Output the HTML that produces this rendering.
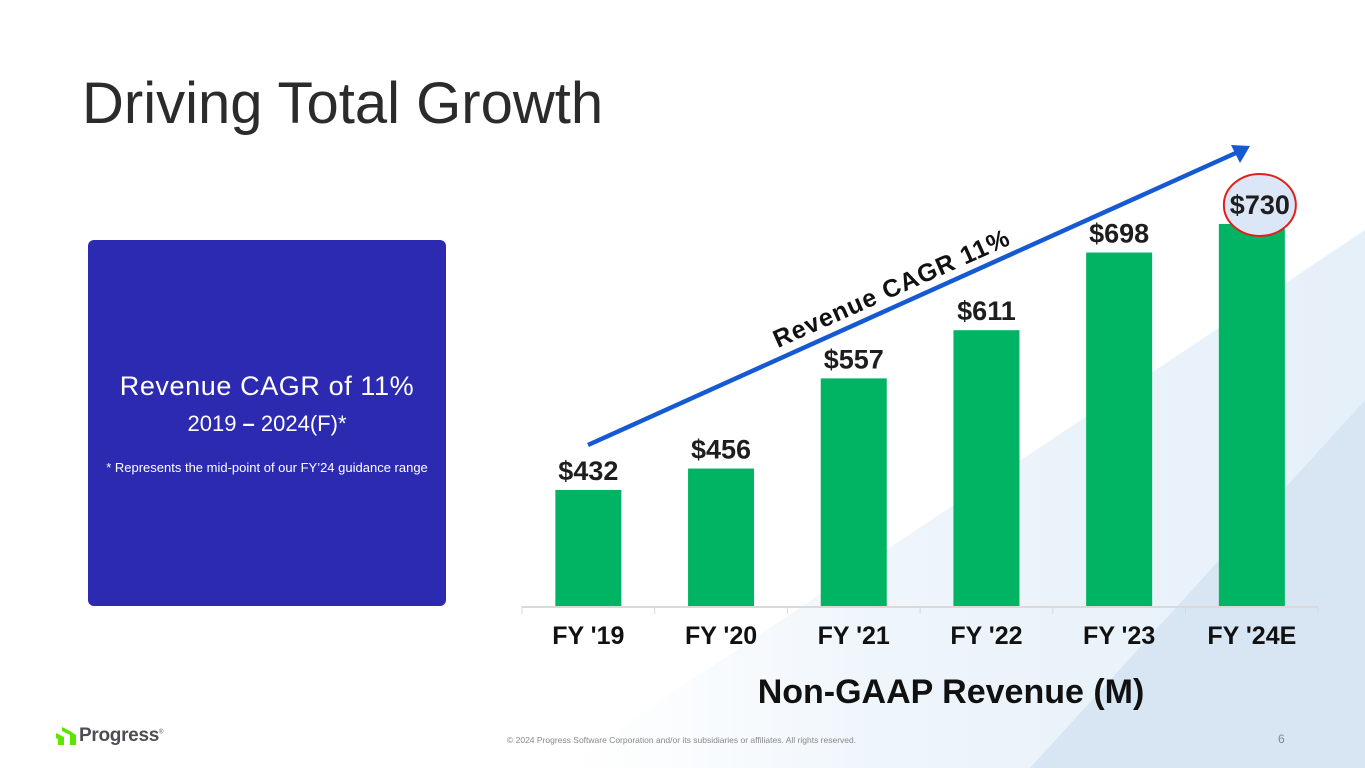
<!DOCTYPE html>
<html><head><meta charset="utf-8"><style>
html,body{margin:0;padding:0;width:1365px;height:768px;overflow:hidden;background:#fff;font-family:"Liberation Sans",sans-serif}
#root{position:relative;width:1365px;height:768px}
.abs{position:absolute}
</style></head><body><div id="root">
<svg class="abs" style="left:0;top:0" width="1365" height="768">
<defs><linearGradient id="g1" x1="0" y1="0" x2="1" y2="0"><stop offset="0" stop-color="#f4f9fd" stop-opacity="0"/><stop offset="0.4" stop-color="#eef5fb"/><stop offset="1" stop-color="#e6f0f9"/></linearGradient></defs>
<polygon points="560,768 1365,230 1365,768" fill="url(#g1)"/>
<polygon points="1030,768 1365,400 1365,768" fill="#d8e6f4"/>
</svg>
<div class="abs" style="left:82px;top:70px;font-size:58px;color:#2b2b2b">Driving Total Growth</div>
<div class="abs" style="left:88px;top:240px;width:358px;height:366px;background:#2c2ab0;border-radius:6px;color:#fff;text-align:center">
<div style="position:absolute;left:0;right:0;top:131px;font-size:27px;letter-spacing:0.6px">Revenue CAGR of 11%</div>
<div style="position:absolute;left:0;right:0;top:171px;font-size:22px">2019 <b>–</b> 2024(F)*</div>
<div style="position:absolute;left:0;right:0;top:220px;font-size:13px">* Represents the mid-point of our FY’24 guidance range</div>
</div>
<svg id="chart" class="abs" style="left:0;top:0" width="1365" height="768"></svg>
<div class="abs" style="left:0;width:1902px;top:673px;text-align:center;font-size:34px;font-weight:bold;color:#111">Non-GAAP Revenue (M)</div>
<div class="abs" style="left:507px;top:735px;font-size:8.5px;color:#888">© 2024 Progress Software Corporation and/or its subsidiaries or affiliates. All rights reserved.</div>
<div class="abs" style="left:1278px;top:732px;font-size:12px;color:#888">6</div>
<div class="abs" style="left:56px;top:725px;height:22px;display:flex;align-items:center">
<svg width="20" height="18"><polygon points="6,0 14,4 20,8 20,18 14,18 14,8 6,4" fill="#5ce500"/><polygon points="0,6 8,10 8,18 2,18 2,12 0,11" fill="#5ce500"/></svg>
<span style="font-size:19px;font-weight:bold;color:#4b4e52;margin-left:3px;letter-spacing:-0.3px">Progress<sup style="font-size:6px;font-weight:normal">®</sup></span>
</div>
</div>
<script>
const categories=["FY '19","FY '20","FY '21","FY '22","FY '23","FY '24E"];
const revenue=[432,456,557,611,698,730];
const valueLabels=["$432","$456","$557","$611","$698","$730"];
const NS="http://www.w3.org/2000/svg";
const svg=document.getElementById('chart');
const baseY=606, x0=522, step=132.7, barW=66;
const yScale=v=>baseY-(v-302)*0.8926;
const xCenter=i=>x0+step*i+step/2;
function mk(t,a){const e=document.createElementNS(NS,t);for(const k in a)e.setAttribute(k,a[k]);svg.appendChild(e);return e;}
const ax=mk('line',{x1:x0,x2:x0+step*6,y1:baseY+1,y2:baseY+1,stroke:'#d9d9d9','stroke-width':2});


for(let i=0;i<=6;i++){const t=mk('line',{x1:x0+step*i,x2:x0+step*i,y1:baseY,y2:baseY+8,stroke:'#d9d9d9','stroke-width':1});

}
revenue.forEach((v,i)=>{
const cx=xCenter(i),y=yScale(v);
const r=mk('rect',{x:cx-barW/2,y:y,width:barW,height:baseY-y,fill:'#00b463'});


if(i===revenue.length-1){const c=mk('ellipse',{cx:cx+8,cy:y-19,rx:36,ry:31,fill:'#dbe6f7',stroke:'#e0201c','stroke-width':2});

}
const t=mk('text',{x:cx+(i===revenue.length-1?8:0),y:y-10,'text-anchor':'middle','font-size':27,'font-weight':'bold',fill:'#1e1e1e','font-family':'Liberation Sans, sans-serif'});
t.textContent=valueLabels[i];


const l=mk('text',{x:cx,y:644,'text-anchor':'middle','font-size':25,'font-weight':'bold',fill:'#111','font-family':'Liberation Sans, sans-serif'});
l.textContent=categories[i];


});
const ln=mk('line',{x1:588,y1:445,x2:1238,y2:152,stroke:'#1559d3','stroke-width':4.5});


const hd=mk('polygon',{points:'1250,146 1231,145 1240,163',fill:'#1559d3'});


const ct=mk('text',{x:0,y:0,'text-anchor':'middle','font-size':25,'font-weight':'bold',fill:'#111','font-family':'Liberation Sans, sans-serif','letter-spacing':'1',transform:'translate(895,296) rotate(-24)'});
ct.textContent='Revenue CAGR 11%';


</script>
</body></html>
